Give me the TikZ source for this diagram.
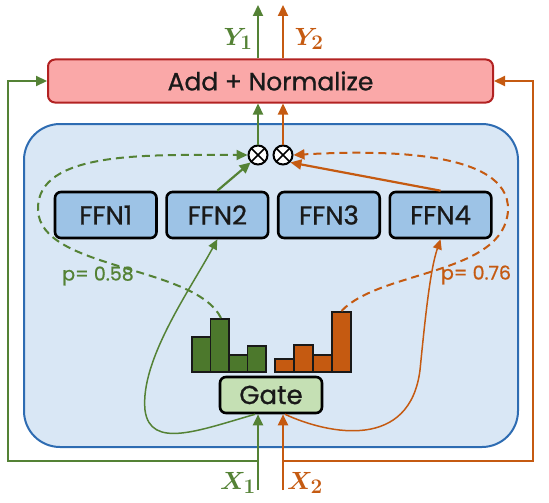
\documentclass[tikz,border=0pt]{standalone}
\usepackage{fontspec}
\setmainfont{Poppins}[FakeBold=0.8]
\usetikzlibrary{arrows.meta,positioning,calc}
\definecolor{moegreen}{RGB}{84,130,53}
\definecolor{moeorange}{RGB}{197,90,17}
\definecolor{bargreen}{RGB}{76,120,44}
\definecolor{addpink}{RGB}{250,168,168}
\definecolor{addred}{RGB}{178,34,34}
\definecolor{layerblue}{RGB}{217,231,245}
\definecolor{layeredge}{RGB}{46,108,178}
\definecolor{ffnblue}{RGB}{157,195,230}
\definecolor{gategreen}{RGB}{197,224,180}
\definecolor{inkdark}{RGB}{25,25,25}
\tikzset{
 addbox/.style={rectangle,rounded corners=7pt,draw=addred,line width=2pt,fill=addpink,minimum width=445pt,minimum height=43pt,text=inkdark,font=\fontsize{25}{28}\selectfont},
 layer/.style={rectangle,rounded corners=36pt,draw=layeredge,line width=2pt,fill=layerblue,minimum width=494pt,minimum height=323pt},
 ffn/.style={rectangle,rounded corners=6pt,draw=black,line width=2.6pt,fill=ffnblue,minimum width=101.5pt,minimum height=46pt,text=inkdark,font=\fontsize{26}{29}\selectfont},
 gatebox/.style={rectangle,rounded corners=6pt,draw=black,line width=2.6pt,fill=gategreen,minimum width=102pt,minimum height=36pt,text=inkdark,font=\fontsize{26}{29}\selectfont},
 mult/.style={circle,draw=black,line width=2pt,fill=white,minimum size=19pt,inner sep=0pt,path picture={\draw[line width=1.6pt] (path picture bounding box.north west)--(path picture bounding box.south east) (path picture bounding box.north east)--(path picture bounding box.south west);}},
 garrow/.style={-{Triangle[length=11pt,width=10pt]},line width=2.2pt,draw=moegreen},
 oarrow/.style={-{Triangle[length=11pt,width=10pt]},line width=2.2pt,draw=moeorange},
 groute/.style={-{Triangle[length=10pt,width=9pt]},line width=1.5pt,draw=moegreen},
 oroute/.style={-{Triangle[length=10pt,width=9pt]},line width=1.5pt,draw=moeorange},
 gdash/.style={-{Triangle[length=11pt,width=10pt]},line width=2pt,draw=moegreen,dash pattern=on 8pt off 5pt},
 odash/.style={-{Triangle[length=11pt,width=10pt]},line width=2pt,draw=moeorange,dash pattern=on 8pt off 5pt},
 gbar/.style={draw=inkdark,line width=1.8pt,fill=bargreen},
 obar/.style={draw=inkdark,line width=1.8pt,fill=moeorange},
 problab/.style={font=\fontsize{19}{22}\selectfont},
 toklab/.style={font=\fontsize{28}{32}\selectfont\boldmath}}
\begin{document}
\begin{tikzpicture}[x=1pt,y=-1pt]
\useasboundingbox (0,0) rectangle (549,503);
% frame of the expert layer and the output block
\node[layer] (layer) at (271,285.5) {};
\node[addbox] (add) at (270.5,81) {Add + Normalize};
% experts
\node[ffn] (ffn1) at (105.75,215) {FFN1};
\node[ffn,right=7.5pt of ffn1] (ffn2) {FFN2};
\node[ffn,right=7.5pt of ffn2] (ffn3) {FFN3};
\node[ffn,right=7.5pt of ffn3] (ffn4) {FFN4};
\node[gatebox] (gate) at (271,395) {Gate};
\node[mult] (gmul) at (258,155) {};
\node[mult] (omul) at (283,155) {};
% gate scores
\draw[gbar] (192,372) rectangle (210.5,337); \draw[gbar] (210.5,372) rectangle (229,319);
\draw[gbar] (229,372) rectangle (247.5,355); \draw[gbar] (247.5,372) rectangle (266,346);
\draw[obar] (275,372) rectangle (294,359); \draw[obar] (294,372) rectangle (313,345);
\draw[obar] (313,372) rectangle (332,355); \draw[obar] (332,372) rectangle (351,312);
\coordinate (gpeak) at (221,318); \coordinate (opeak) at (341.5,311);
% inputs and outputs
\coordinate (x1) at (258,490); \coordinate (x2) at (283,490);
\coordinate (y1) at (258,5); \coordinate (y2) at (283,5);
\coordinate (gfork) at (258,461); \coordinate (ofork) at (283,461);
\node[toklab,text=moegreen] (x1lab) at (238,483) {$X_1$};
\node[toklab,text=moeorange] (x2lab) at (305,483) {$X_2$};
\node[toklab,text=moegreen] (y1lab) at (238,39) {$Y_1$};
\node[toklab,text=moeorange] (y2lab) at (309,39) {$Y_2$};
\node[problab,text=moegreen] (pg) at (98,276) {p= 0.58};
\node[problab,text=moeorange] (po) at (476,275) {p= 0.76};
\draw[garrow] (x1) -- (x1 |- gate.south); \draw[oarrow] (x2) -- (x2 |- gate.south);
\draw[garrow] (gfork) -- ++(-250,0) |- (add.west); \draw[oarrow] (ofork) -- ++(250,0) |- (add.east);
\draw[garrow] (gmul) -- (gmul |- add.south); \draw[oarrow] (omul) -- (omul |- add.south);
\draw[garrow] (gmul |- add.north) -- (y1); \draw[oarrow] (omul |- add.north) -- (y2);
% routing
\draw[groute] ($(gate.south)+(-16,0)$) .. controls (200,430) and (150,450) .. (145,410) .. controls (140,360) and (190,290) .. (ffn2.south);
\draw[oroute] ($(gate.south)+(14,0)$) .. controls (330,435) and (410,450) .. (420,370) .. controls (425,320) and (430,270) .. (ffn4.south);
\draw[garrow] (ffn2.north) -- (gmul.south west); \draw[oarrow] (ffn4.north) -- (omul.south east);
\draw[gdash] (gpeak) .. controls (195,265) and (40,270) .. (38,210) .. controls (36,150) and (150,155) .. (gmul.west);
\draw[odash] (opeak) .. controls (380,270) and (505,275) .. (508,210) .. controls (510,150) and (380,150) .. (omul.east);
\end{tikzpicture}
\end{document}
